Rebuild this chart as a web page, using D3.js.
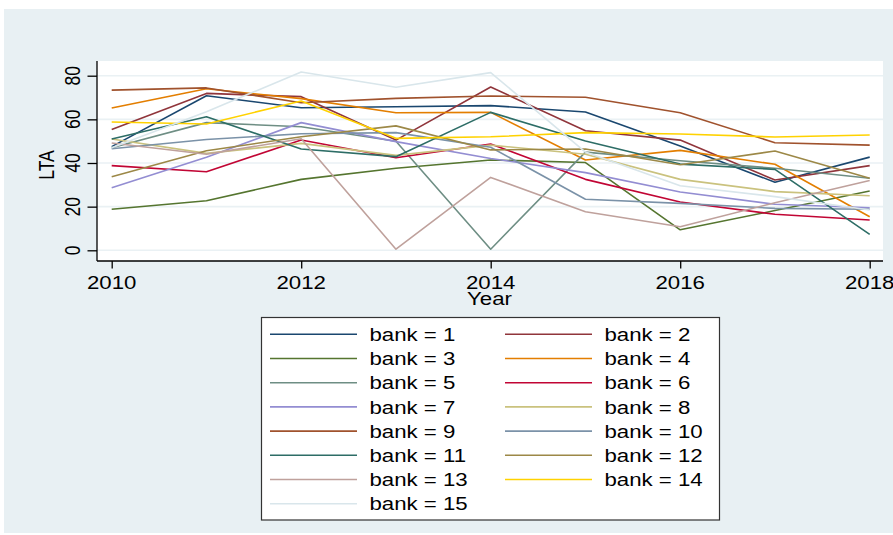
<!DOCTYPE html>
<html>
<head>
<meta charset="utf-8">
<script src="https://cdnjs.cloudflare.com/ajax/libs/d3/7.8.5/d3.min.js"></script>
<style>
  html, body { margin: 0; padding: 0; background: #ffffff; }
  svg { display: block; }
  text { font-family: "Liberation Sans", Arial, sans-serif; fill: #000; }
</style>
</head>
<body>
<svg id="chart" width="893" height="535"></svg>
<script>
// Loans-to-assets ratio by bank, 2010-2018
const years = [2010, 2011, 2012, 2013, 2014, 2015, 2016, 2017, 2018];
const xTicks = [2010, 2012, 2014, 2016, 2018];
const yTicks = [0, 20, 40, 60, 80];

const bankIds = [1, 2, 3, 4, 5, 6, 7, 8, 9, 10, 11, 12, 13, 14, 15];
const bankColors = ["#1a476f", "#90353b", "#55752f", "#e37e00", "#6e8e84",
  "#c10534", "#938dd2", "#cac27e", "#a0522d", "#7b92a8",
  "#2d6d66", "#9c8847", "#bfa19c", "#ffd200", "#d9e6eb"];

const bank1  = [47.5, 70.8, 65.3, 65.8, 66.3, 63.4, 47.8, 31.2, 42.7];
const bank2  = [55.4, 71.9, 70.4, 50.5, 74.8, 54.8, 50.5, 32.2, 38.8];
const bank3  = [18.8, 22.7, 32.5, 37.6, 41.4, 40.2, 9.4, 18.2, 27.2];
const bank4  = [65.2, 74.0, 69.5, 63.0, 63.2, 41.4, 45.8, 39.4, 15.4];
const bank5  = [47.0, 58.5, 56.6, 50.0, 0.5, 45.0, 41.0, 37.6, 33.0];
const bank6  = [38.8, 36.0, 50.5, 42.4, 48.7, 32.5, 22.1, 16.5, 13.9];
const bank7  = [28.7, 42.6, 58.5, 49.8, 42.1, 35.6, 26.7, 21.1, 19.5];
const bank8  = [51.0, 44.4, 49.0, 43.5, 48.2, 44.0, 32.5, 26.9, 25.0];
const bank9  = [73.4, 74.4, 67.6, 69.6, 70.7, 70.1, 63.0, 49.3, 48.2];
const bank10 = [46.5, 50.8, 53.4, 53.9, 47.2, 23.4, 21.5, 19.2, 18.8];
const bank11 = [51.0, 61.2, 46.4, 42.9, 63.2, 50.1, 39.5, 37.1, 7.3];
const bank12 = [33.7, 45.6, 52.0, 57.0, 46.0, 46.4, 39.2, 45.5, 33.0];
const bank13 = [49.2, 44.0, 51.1, 0.5, 33.4, 17.7, 10.8, 21.8, 32.0];
const bank14 = [58.8, 57.9, 68.4, 51.3, 52.0, 53.9, 53.3, 51.9, 52.8];
const bank15 = [47.0, 63.5, 81.7, 74.7, 81.4, 45.0, 29.6, 24.6, 18.5];

const seriesValues = [bank1, bank2, bank3, bank4, bank5, bank6, bank7, bank8,
  bank9, bank10, bank11, bank12, bank13, bank14, bank15];

const series = bankIds.map((id, i) => ({
  label: "bank = " + id,
  color: bankColors[i],
  points: years.map((yr, j) => ({ year: yr, value: seriesValues[i][j] }))
}));

const svg = d3.select("#chart");
const SX = 1.27;           // horizontal stretch of all lettering
const FONT = 17.5;

// outer graph region
svg.append("rect").attr("x", 4).attr("y", 9).attr("width", 889).attr("height", 524)
  .attr("fill", "#e8f0f3");

const plot = { left: 97, right: 883, top: 61, bottom: 261 };
svg.append("rect").attr("x", plot.left).attr("y", plot.top)
  .attr("width", plot.right - plot.left).attr("height", plot.bottom - plot.top)
  .attr("fill", "#ffffff");

const x = d3.scaleLinear().domain([2010, 2018]).range([111.7, 869.7]);
const y = d3.scaleLinear().domain([0, 80]).range([250.3, 75.7]);

// gridlines
svg.append("g").selectAll("line").data(yTicks).join("line")
  .attr("x1", plot.left).attr("x2", plot.right)
  .attr("y1", d => y(d)).attr("y2", d => y(d))
  .attr("stroke", "#eaf1f4").attr("stroke-width", 1.6);

// series lines
const line = d3.line().x(d => x(d.year)).y(d => y(d.value));
svg.append("g").selectAll("path").data(series).join("path")
  .attr("d", d => line(d.points))
  .attr("fill", "none")
  .attr("stroke", d => d.color)
  .attr("stroke-width", 1.6)
  .attr("stroke-linejoin", "round");

// y axis
const yAxis = svg.append("g").attr("transform", `translate(${plot.left},0)`)
  .call(d3.axisLeft(y).tickValues(yTicks).tickSize(9.5).tickFormat(""));
yAxis.select(".domain").attr("d", `M0,${plot.top}V${plot.bottom}`).attr("stroke", "#000").attr("stroke-width", 1.3);
yAxis.selectAll(".tick line").attr("stroke", "#000").attr("stroke-width", 1.3);
svg.append("g").selectAll("text").data(yTicks).join("text")
  .attr("transform", d => `translate(79.5,${y(d)}) scale(${SX},1) rotate(-90)`)
  .attr("text-anchor", "middle")
  .style("font-size", FONT + "px")
  .text(d => d);

// x axis
const xAxis = svg.append("g").attr("transform", `translate(0,${plot.bottom})`)
  .call(d3.axisBottom(x).tickValues(xTicks).tickSize(7.5).tickFormat(""));
xAxis.select(".domain").attr("d", `M${plot.left},0H${plot.right}`).attr("stroke", "#000").attr("stroke-width", 1.3);
xAxis.selectAll(".tick line").attr("stroke", "#000").attr("stroke-width", 1.3);
svg.append("g").selectAll("text").data(xTicks).join("text")
  .attr("transform", d => `translate(${x(d)},288.5) scale(${SX},1)`)
  .attr("text-anchor", "middle")
  .style("font-size", FONT + "px")
  .text(d => d);

// axis titles
svg.append("text")
  .attr("transform", `translate(${(plot.left + plot.right) / 2 - 0.5},304.5) scale(${SX},1)`)
  .attr("text-anchor", "middle").style("font-size", FONT + "px").text("Year");
svg.append("text")
  .attr("transform", `translate(53.5,${(plot.top + plot.bottom) / 2 + 4}) scale(${SX},1) rotate(-90)`)
  .attr("text-anchor", "middle").style("font-size", FONT + "px").text("LTA");

// legend
const legend = svg.append("g");
legend.append("rect").attr("x", 261.5).attr("y", 317.5).attr("width", 458).attr("height", 202.5)
  .attr("fill", "#ffffff").attr("stroke", "#333").attr("stroke-width", 1.2);
const rowY = i => 334.3 + Math.floor(i / 2) * 24.2;
const colX = i => (i % 2 === 0 ? 270 : 505);
const items = legend.selectAll("g.item").data(series).join("g").attr("class", "item");
items.append("line")
  .attr("x1", (d, i) => colX(i)).attr("x2", (d, i) => colX(i) + 87)
  .attr("y1", (d, i) => rowY(i)).attr("y2", (d, i) => rowY(i))
  .attr("stroke", d => d.color).attr("stroke-width", 1.6);
items.append("text")
  .attr("transform", (d, i) => `translate(${colX(i) + 99.5},${rowY(i) + 6.7}) scale(${SX},1)`)
  .style("font-size", FONT + "px")
  .text(d => d.label);
</script>
</body>
</html>
